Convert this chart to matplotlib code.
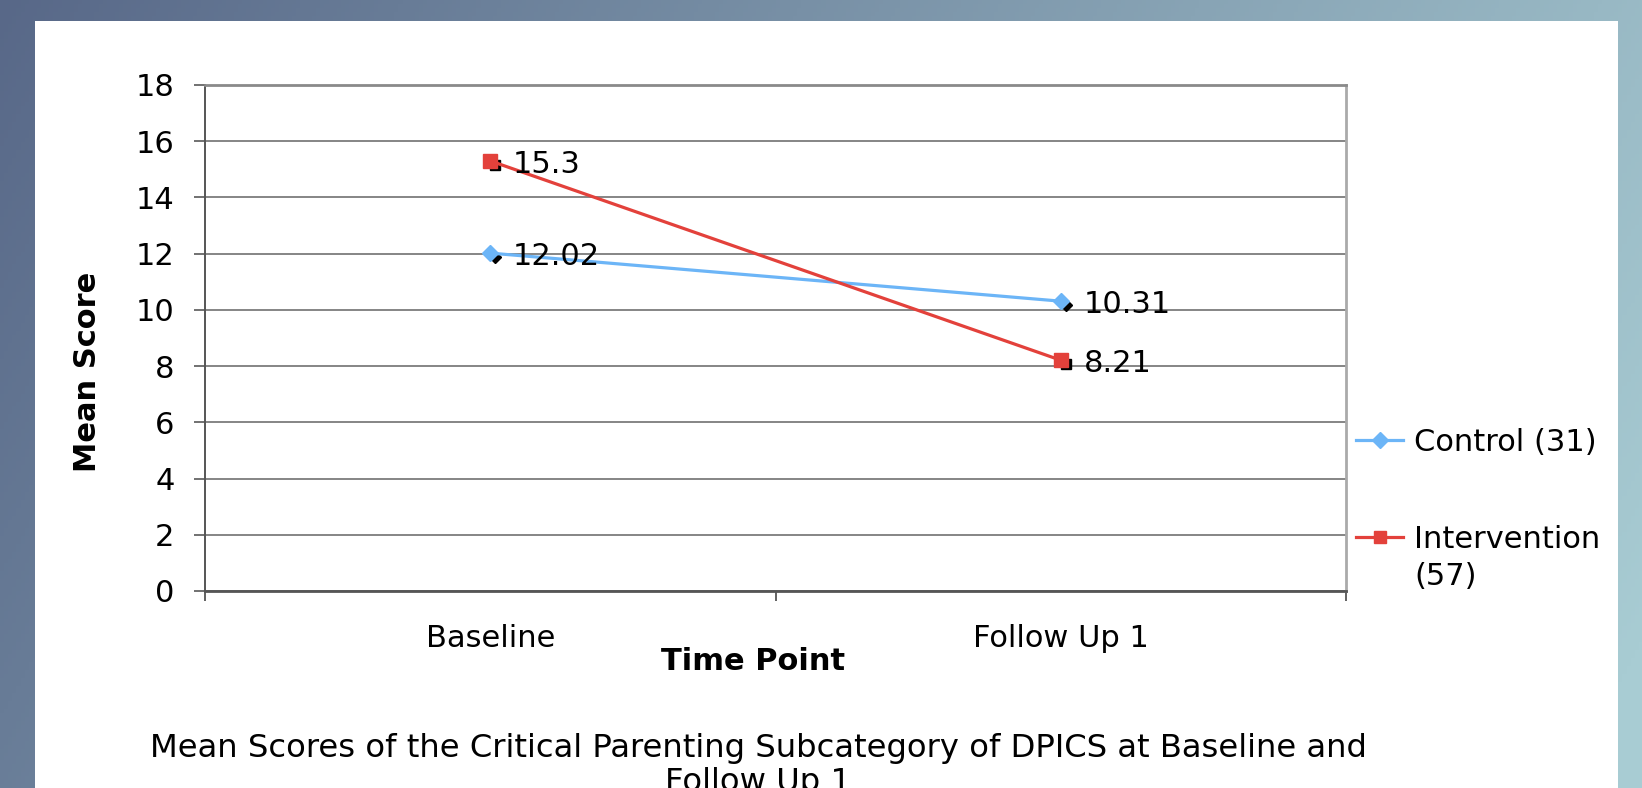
import numpy as np
import matplotlib
matplotlib.use("Agg")
import matplotlib.pyplot as plt
import matplotlib.transforms as mtransforms
from matplotlib.patches import Rectangle
from matplotlib.lines import Line2D

# ---- data ----
categories = ["Baseline", "Follow Up 1"]
control_values = [12.02, 10.31]
intervention_values = [15.3, 8.21]
control_label = "Control (31)"
intervention_label = ["Intervention", "(57)"]
y_ticks = [0, 2, 4, 6, 8, 10, 12, 14, 16, 18]
title = "Mean Scores of the Critical Parenting Subcategory of DPICS at Baseline and\nFollow Up 1"
x_label = "Time Point"
y_label = "Mean Score"

W, H = 1642, 788
DPI = 100
plt.rcParams['font.family'] = ['DejaVu Sans']
fig = plt.figure(figsize=(W / DPI, H / DPI), dpi=DPI)

def fx(px):
    return px / W

def fy(py):
    return 1 - py / H

# ---- gradient background ----
bg = fig.add_axes([0, 0, 1, 1], zorder=-10)
bg.set_axis_off()
gx = np.linspace(0, 1, 400)[None, :]
gy = np.linspace(0, 1, 200)[:, None]
t = np.clip(gx * 0.82 + gy * 0.22, 0, 1)
c0 = np.array([88, 104, 136]) / 255.0
c1 = np.array([168, 204, 211]) / 255.0
img = c0[None, None, :] * (1 - t[..., None]) + c1[None, None, :] * t[..., None]
bg.imshow(img, aspect='auto', extent=[0, 1, 0, 1], origin='upper')
bg.set_xlim(0, 1)
bg.set_ylim(0, 1)
fig.patches.append(Rectangle((fx(35), 0), fx(1618) - fx(35), fy(21), transform=fig.transFigure,
                             facecolor='white', edgecolor='none', zorder=-5))

# ---- main axes ----
ax = fig.add_axes([fx(205), fy(591), fx(1346) - fx(205), fy(85) - fy(591)])
ax.set_facecolor('none')
x = np.arange(len(categories))
ax.set_xlim(-0.5, len(categories) - 0.5)
ax.set_ylim(0, 18)
ax.set_yticks(y_ticks)
ax.set_yticklabels([str(v) for v in y_ticks])
ax.yaxis.grid(True, color='#858585', linewidth=1.4)
ax.set_axisbelow(True)

ax.set_xticks(np.arange(-0.5, len(categories), 1.0))
ax.set_xticklabels([])
ax.set_xticks(x, minor=True)
ax.set_xticklabels(categories, minor=True)
ax.tick_params(axis='x', which='major', direction='out', length=7.5, width=1.3, color='#555555')
ax.tick_params(axis='x', which='minor', length=0, pad=24, labelsize=22)
ax.tick_params(axis='y', direction='out', length=7.9, width=1.3, color='#666666', pad=14, labelsize=22)

ax.spines['left'].set_color('#555555')
ax.spines['left'].set_linewidth(1.4)
ax.spines['bottom'].set_color('#555555')
ax.spines['bottom'].set_linewidth(2.0)
ax.spines['right'].set_color('#aaaaaa')
ax.spines['right'].set_linewidth(2.0)
ax.spines['top'].set_color('#8a8a8a')
ax.spines['top'].set_linewidth(2.0)

blue = '#6CB5F7'
red = '#E3413B'

# shadow markers (black, offset)
off = mtransforms.ScaledTranslation(5 / DPI, -4 / DPI, fig.dpi_scale_trans)
ax.plot(x, control_values, linestyle='none', marker='D', markersize=6, color='black',
        transform=ax.transData + off, zorder=3)
ax.plot(x, intervention_values, linestyle='none', marker='s', markersize=7, color='black',
        transform=ax.transData + off, zorder=3)

ax.plot(x, control_values, color=blue, linewidth=2.3, marker='D', markersize=8.5,
        markeredgecolor=blue, zorder=4, clip_on=False)
ax.plot(x, intervention_values, color=red, linewidth=2.3, marker='s', markersize=9.5,
        markeredgecolor=red, zorder=5, clip_on=False)

for xi, v in zip(x, control_values):
    ax.annotate(f"{v:g}", (xi, v), xytext=(16.5, -2.5), textcoords='offset points',
                ha='left', va='center', fontsize=22, zorder=6)
for xi, v in zip(x, intervention_values):
    ax.annotate(f"{v:g}", (xi, v), xytext=(16.5, -2.5), textcoords='offset points',
                ha='left', va='center', fontsize=22, zorder=6)

# ---- legend ----
handles = [Line2D([], [], color=blue, linewidth=2.3, marker='D', markersize=8),
           Line2D([], [], color=red, linewidth=2.3, marker='s', markersize=9)]
leg = fig.legend(handles, [control_label, intervention_label[0]], loc='upper left',
                 bbox_to_anchor=(fx(1356), fy(428)), bbox_transform=fig.transFigure,
                 frameon=False, fontsize=22, borderpad=0, borderaxespad=0,
                 handlelength=1.54, handletextpad=0.36, labelspacing=2.23)
fig.canvas.draw()
fig.add_artist(plt.Annotation(intervention_label[1], xy=(0, 0), xycoords=leg.get_texts()[1],
                              xytext=(0, -6), textcoords='offset points',
                              ha='left', va='top', fontsize=22))

# ---- labels ----
fig.text(fx(753), fy(662), x_label, ha='center', va='center', fontsize=22, fontweight='bold')
fig.text(fx(87), fy(372), y_label, ha='center', va='center', fontsize=22, fontweight='bold',
         rotation=90)
fig.text(fx(758), fy(733), title, ha='center', va='top', fontsize=23.2, linespacing=1.13)

fig.savefig('out.png', dpi=DPI)
